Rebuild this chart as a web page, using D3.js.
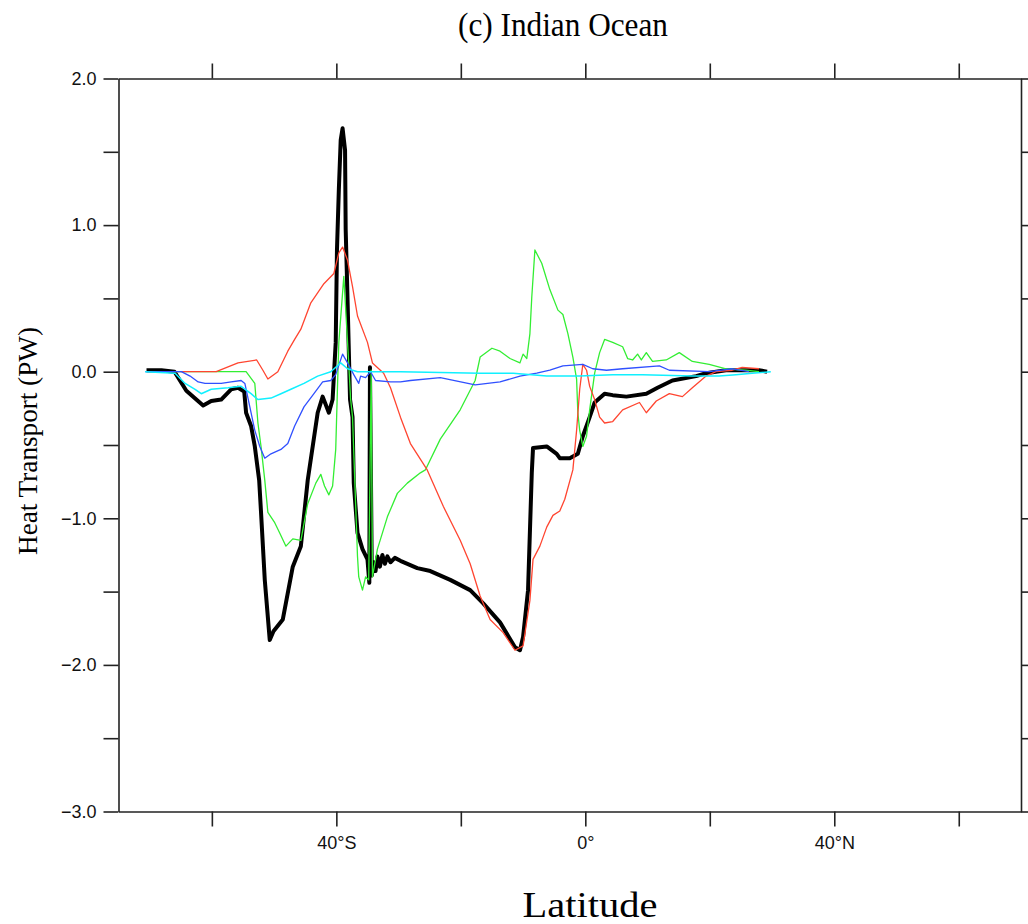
<!DOCTYPE html>
<html>
<head>
<meta charset="utf-8">
<script src="https://cdn.jsdelivr.net/npm/d3@7"></script>
<style>
  body { margin: 0; background: #fff; }
  svg { display: block; }
</style>
</head>
<body>
<div id="vis"></div>
<script>
// Heat transport by latitude, Indian Ocean (PW)
const lat_total = [-70.5, -68.1, -66.0, -64.1, -61.4, -60.1, -58.5, -56.9, -55.8, -54.8, -54.5, -53.7, -53.1, -52.4, -52.1, -51.5, -50.7, -50.1, -48.6, -47.0, -45.7, -44.6, -43.0, -42.2, -41.2, -40.6, -40.1, -39.9, -39.6, -39.3, -39.0, -38.6, -38.5, -38.2, -37.8, -37.4, -37.2, -36.6, -35.8, -35.0, -34.7, -34.6, -34.3, -34.0, -33.7, -33.4, -33.0, -32.6, -32.2, -31.8, -31.3, -30.6, -29.7, -27.0, -24.9, -21.7, -18.5, -16.4, -13.7, -11.3, -10.5, -10.0, -9.2, -8.6, -8.4, -6.2, -4.6, -4.1, -2.5, -1.2, -0.4, 0.7, 1.5, 3.1, 4.4, 6.6, 9.8, 11.6, 14.0, 17.8, 19.4, 22.6, 27.9, 29.2]
const val_total = [0.01, 0.01, 0.0, -0.13, -0.23, -0.20, -0.19, -0.12, -0.11, -0.135, -0.28, -0.37, -0.51, -0.74, -0.96, -1.42, -1.83, -1.77, -1.69, -1.33, -1.19, -0.74, -0.28, -0.17, -0.28, -0.19, 0.20, 0.83, 1.24, 1.58, 1.66, 1.51, 0.97, 0.49, -0.19, -0.31, -0.76, -1.10, -1.21, -1.28, -1.44, 0.03, -1.39, -1.30, -1.36, -1.26, -1.33, -1.25, -1.31, -1.26, -1.30, -1.27, -1.29, -1.34, -1.36, -1.42, -1.49, -1.58, -1.71, -1.88, -1.90, -1.81, -1.49, -0.69, -0.52, -0.51, -0.56, -0.59, -0.59, -0.56, -0.44, -0.31, -0.21, -0.15, -0.16, -0.17, -0.15, -0.11, -0.06, -0.03, -0.01, 0.01, 0.01, 0.0]

const lat_red = [-70.5, -63.6, -59.3, -55.8, -52.8, -51.8, -51.0, -49.4, -47.8, -46.7, -45.7, -44.1, -42.0, -40.4, -39.6, -39.0, -38.2, -37.4, -36.6, -35.0, -34.2, -32.4, -31.3, -29.7, -28.1, -25.4, -22.8, -20.1, -18.5, -16.9, -15.3, -13.2, -11.3, -10.0, -8.9, -8.4, -7.3, -6.2, -5.2, -4.1, -3.3, -2.0, -1.4, -0.9, -0.4, 0.2, 0.7, 1.5, 2.3, 3.1, 4.4, 6.0, 8.7, 9.8, 11.4, 13.5, 15.6, 17.2, 19.4, 21.0, 23.6, 25.2, 27.9]
const val_red = [0.0, 0.0, 0.0, 0.06, 0.08, 0.01, -0.05, 0.0, 0.14, 0.22, 0.29, 0.47, 0.60, 0.67, 0.81, 0.85, 0.76, 0.58, 0.38, 0.20, 0.06, -0.01, -0.11, -0.31, -0.49, -0.67, -0.92, -1.15, -1.31, -1.53, -1.69, -1.78, -1.90, -1.87, -1.56, -1.28, -1.19, -1.06, -0.98, -0.95, -0.87, -0.67, -0.40, -0.12, 0.05, 0.01, -0.10, -0.19, -0.31, -0.35, -0.34, -0.26, -0.21, -0.28, -0.20, -0.15, -0.17, -0.11, -0.03, 0.0, 0.01, 0.03, 0.02]

const lat_green = [-67.6, -54.5, -53.1, -52.6, -52.1, -51.5, -51.0, -49.9, -49.1, -48.1, -47.0, -45.7, -44.6, -43.3, -42.5, -41.9, -41.2, -40.6, -40.1, -39.8, -39.6, -38.8, -38.2, -37.7, -37.4, -36.6, -36.4, -35.8, -35.3, -34.8, -34.4, -34.2, -33.4, -31.8, -30.2, -28.6, -26.5, -25.7, -23.3, -20.1, -17.7, -16.9, -15.0, -13.7, -12.1, -10.5, -10.0, -9.4, -8.9, -8.6, -8.1, -7.0, -5.7, -4.4, -3.6, -2.8, -2.0, -1.4, -1.2, -0.9, -0.4, 0.2, 0.7, 1.5, 2.3, 3.1, 4.4, 6.0, 6.8, 7.6, 8.4, 9.0, 9.8, 10.8, 13.0, 15.1, 17.2, 19.9, 22.6, 25.8, 27.9]
const val_green = [0.0, 0.0, -0.08, -0.35, -0.51, -0.74, -0.96, -1.03, -1.10, -1.19, -1.14, -1.15, -0.90, -0.76, -0.70, -0.78, -0.84, -0.78, -0.53, -0.08, 0.20, 0.65, 0.20, -0.19, -0.31, -1.26, -1.40, -1.49, -1.40, -1.42, 0.01, -1.40, -1.21, -0.99, -0.83, -0.76, -0.69, -0.67, -0.46, -0.26, -0.06, 0.10, 0.16, 0.14, 0.09, 0.06, 0.12, 0.09, 0.26, 0.51, 0.83, 0.74, 0.56, 0.42, 0.39, 0.26, 0.10, -0.05, -0.28, -0.40, -0.51, -0.44, -0.26, -0.01, 0.13, 0.22, 0.20, 0.17, 0.09, 0.08, 0.12, 0.08, 0.13, 0.07, 0.08, 0.13, 0.07, 0.05, 0.02, 0.01, 0.0]

const lat_blue = [-70.7, -64.9, -63.5, -62.2, -61.1, -58.5, -56.9, -55.3, -54.7, -53.9, -53.1, -52.3, -51.5, -50.5, -48.9, -47.8, -46.7, -45.2, -43.6, -42.2, -40.9, -40.1, -39.0, -38.2, -37.2, -36.4, -36.1, -35.3, -34.5, -33.7, -31.3, -29.7, -28.1, -23.3, -17.7, -13.7, -10.5, -7.8, -5.7, -3.6, -0.4, 1.2, 3.4, 6.0, 11.9, 13.5, 19.9, 23.6, 26.3]
const val_blue = [0.0, 0.0, -0.03, -0.07, -0.08, -0.08, -0.07, -0.06, -0.08, -0.24, -0.40, -0.51, -0.59, -0.56, -0.53, -0.49, -0.37, -0.24, -0.15, -0.07, -0.06, -0.02, 0.12, 0.06, -0.02, -0.08, -0.03, -0.04, 0.0, -0.06, -0.07, -0.07, -0.06, -0.04, -0.09, -0.07, -0.03, -0.01, 0.01, 0.04, 0.05, 0.02, 0.01, 0.02, 0.04, 0.01, 0.0, 0.02, 0.0]

const lat_cyan = [-70.7, -65.9, -64.3, -62.7, -61.7, -60.1, -57.4, -55.3, -53.7, -52.6, -50.5, -48.9, -47.3, -45.2, -43.0, -40.9, -39.3, -38.2, -36.6, -29.7, -16.9, -11.6, -6.2, -0.9, 4.4, 9.2, 17.2, 21.5, 24.2, 26.8, 29.8]
const val_cyan = [0.0, -0.01, -0.08, -0.12, -0.15, -0.12, -0.11, -0.10, -0.15, -0.19, -0.18, -0.15, -0.12, -0.08, -0.03, 0.0, 0.06, 0.02, 0.0, 0.0, -0.01, -0.01, -0.03, -0.03, -0.02, -0.02, -0.03, -0.03, -0.02, -0.01, 0.0]

const yTicks = [-3.0, -2.5, -2.0, -1.5, -1.0, -0.5, 0.0, 0.5, 1.0, 1.5, 2.0]
const xTicks = [-60, -40, -20, 0, 20, 40, 60]
const xTickLabels = { '-40': '40°S', '0': '0°', '40': '40°N' }

const series = [
  { name: 'total', lat: lat_total, val: val_total, color: '#000000', width: 4 },
  { name: 'green', lat: lat_green, val: val_green, color: '#33ee33', width: 1.3 },
  { name: 'red', lat: lat_red, val: val_red, color: '#ff4530', width: 1.3 },
  { name: 'blue', lat: lat_blue, val: val_blue, color: '#3050ff', width: 1.3 },
  { name: 'cyan', lat: lat_cyan, val: val_cyan, color: '#10f0ff', width: 1.5 }
]

const W = 1028, H = 924
const plot = { left: 118.5, right: 1021, top: 78.5, bottom: 811.5 }

const svg = d3.select('#vis').append('svg')
  .attr('width', W)
  .attr('height', H)

const x = d3.scaleLinear().domain([-75, 70]).range([plot.left, plot.right])
const y = d3.scaleLinear().domain([-3, 2]).range([plot.bottom, plot.top])

const yFmt = d => Number.isInteger(d) ? (d < 0 ? '\u2212' : '') + Math.abs(d).toFixed(1) : ''
const xFmt = d => xTickLabels[String(d)] || ''

// axes: ticks point outward on all four sides
function styleAxis(g) {
  g.select('.domain').attr('stroke', '#222').attr('stroke-width', 1.6)
  g.selectAll('.tick line').attr('stroke', '#222').attr('stroke-width', 1.6)
  g.selectAll('.tick text')
    .attr('font-family', '"Liberation Sans", Arial, sans-serif')
    .attr('font-size', 18)
    .attr('fill', '#111')
}

svg.append('g')
  .attr('transform', `translate(${plot.left},0)`)
  .call(d3.axisLeft(y).tickValues(yTicks).tickFormat(yFmt).tickSize(15).tickSizeOuter(0).tickPadding(7))
  .call(styleAxis)

svg.append('g')
  .attr('transform', `translate(${plot.right},0)`)
  .call(d3.axisRight(y).tickValues(yTicks).tickFormat('').tickSize(15).tickSizeOuter(0))
  .call(styleAxis)

svg.append('g')
  .attr('transform', `translate(0,${plot.bottom})`)
  .call(d3.axisBottom(x).tickValues(xTicks).tickFormat(xFmt).tickSize(15).tickSizeOuter(0).tickPadding(10))
  .call(styleAxis)

svg.append('g')
  .attr('transform', `translate(0,${plot.top})`)
  .call(d3.axisTop(x).tickValues(xTicks).tickFormat('').tickSize(15).tickSizeOuter(0))
  .call(styleAxis)

const line = d3.line()
  .x(d => x(d[0]))
  .y(d => y(d[1]))

svg.append('g').selectAll('path.series')
  .data(series)
  .join('path')
  .attr('class', 'series')
  .attr('d', s => line(s.lat.map((l, i) => [l, s.val[i]])))
  .attr('fill', 'none')
  .attr('stroke', s => s.color)
  .attr('stroke-width', s => s.width)
  .attr('stroke-linejoin', 'round')

// titles
svg.append('text')
  .attr('x', 563).attr('y', 36)
  .attr('text-anchor', 'middle')
  .attr('font-family', '"Liberation Serif", "Times New Roman", serif')
  .attr('font-size', 33)
  .attr('textLength', 210)
  .attr('lengthAdjust', 'spacingAndGlyphs')
  .text('(c) Indian Ocean')

svg.append('text')
  .attr('transform', 'translate(37,441) rotate(-90)')
  .attr('text-anchor', 'middle')
  .attr('font-family', '"Liberation Serif", "Times New Roman", serif')
  .attr('font-size', 27)
  .attr('textLength', 228)
  .attr('lengthAdjust', 'spacingAndGlyphs')
  .text('Heat Transport (PW)')

svg.append('text')
  .attr('x', 590).attr('y', 917)
  .attr('text-anchor', 'middle')
  .attr('font-family', '"Liberation Serif", "Times New Roman", serif')
  .attr('font-size', 36)
  .attr('textLength', 135)
  .attr('lengthAdjust', 'spacingAndGlyphs')
  .text('Latitude')
</script>
</body>
</html>
